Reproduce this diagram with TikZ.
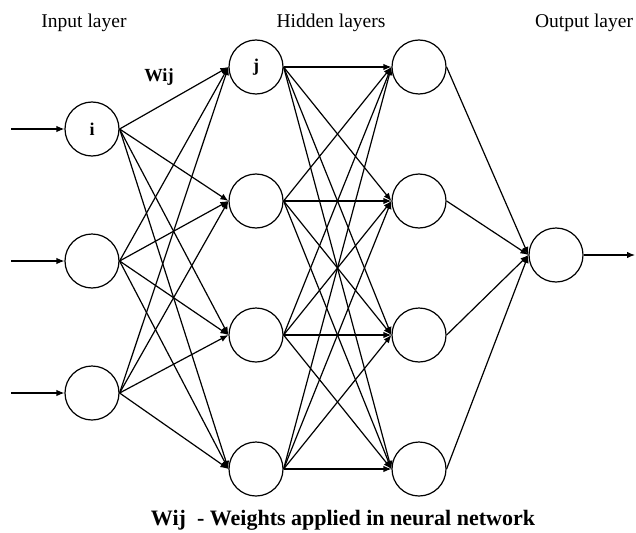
\documentclass[tikz,border=0pt]{standalone}
\usepackage{fontspec}
\setmainfont{Liberation Serif}
\usetikzlibrary{arrows.meta}
\begin{document}
\begin{tikzpicture}[x=1pt,y=-1pt,
  neuron/.style={circle,draw,line width=1.2pt,minimum size=54pt,inner sep=0pt,
                 font=\fontsize{18}{18}\selectfont\bfseries},
  link/.style={line width=1.2pt,-{Latex[length=8pt,width=6.5pt]}},
  caption/.style={anchor=base,inner sep=0pt,font=\fontsize{19.5}{20}\selectfont}]
\useasboundingbox (0,0) rectangle (636,532);

% layer titles
\node[caption] (tin)  at (84,28)  {Input layer};
\node[caption] (thid) at (331,28) {Hidden layers};
\node[caption] (tout) at (584,28) {Output layer};

% input layer
\node[neuron] (i1) at (92,129) {i};
\node[neuron] (i2) at (92,261) {};
\node[neuron] (i3) at (92,393) {};

% first hidden layer
\node[neuron] (h1) at (256,67)  {j};
\node[neuron] (h2) at (256,201) {};
\node[neuron] (h3) at (256,335) {};
\node[neuron] (h4) at (256,469) {};

% second hidden layer
\node[neuron] (g1) at (419,67)  {};
\node[neuron] (g2) at (419,201) {};
\node[neuron] (g3) at (419,335) {};
\node[neuron] (g4) at (419,469) {};

% output layer
\node[neuron] (o1) at (556,255) {};

% external inputs and output
\coordinate (x1) at (11,129);
\coordinate (x2) at (11,261);
\coordinate (x3) at (11,393);
\coordinate (y1) at (635,255);
\foreach \k in {1,2,3} \draw[link] (x\k) -- (i\k.west);
\draw[link] (o1.east) -- (y1);

% weighted connections
\foreach \a in {1,2,3} \foreach \b in {1,2,3,4} \draw[link] (i\a.east) -- (h\b.west);
\foreach \a in {1,2,3,4} \foreach \b in {1,2,3,4} \draw[link] (h\a.east) -- (g\b.west);
\foreach \a in {1,2,3,4} \draw[link] (g\a.east) -- (o1.west);

% labels
\node[anchor=base,inner sep=0pt,font=\fontsize{18.5}{19}\selectfont\bfseries] (w) at (159,82) {Wij};
\node[anchor=base,inner sep=0pt,font=\fontsize{22}{22}\selectfont\bfseries] (legend) at (343,525)
  {Wij\ \ - Weights applied in neural network};
\end{tikzpicture}
\end{document}
